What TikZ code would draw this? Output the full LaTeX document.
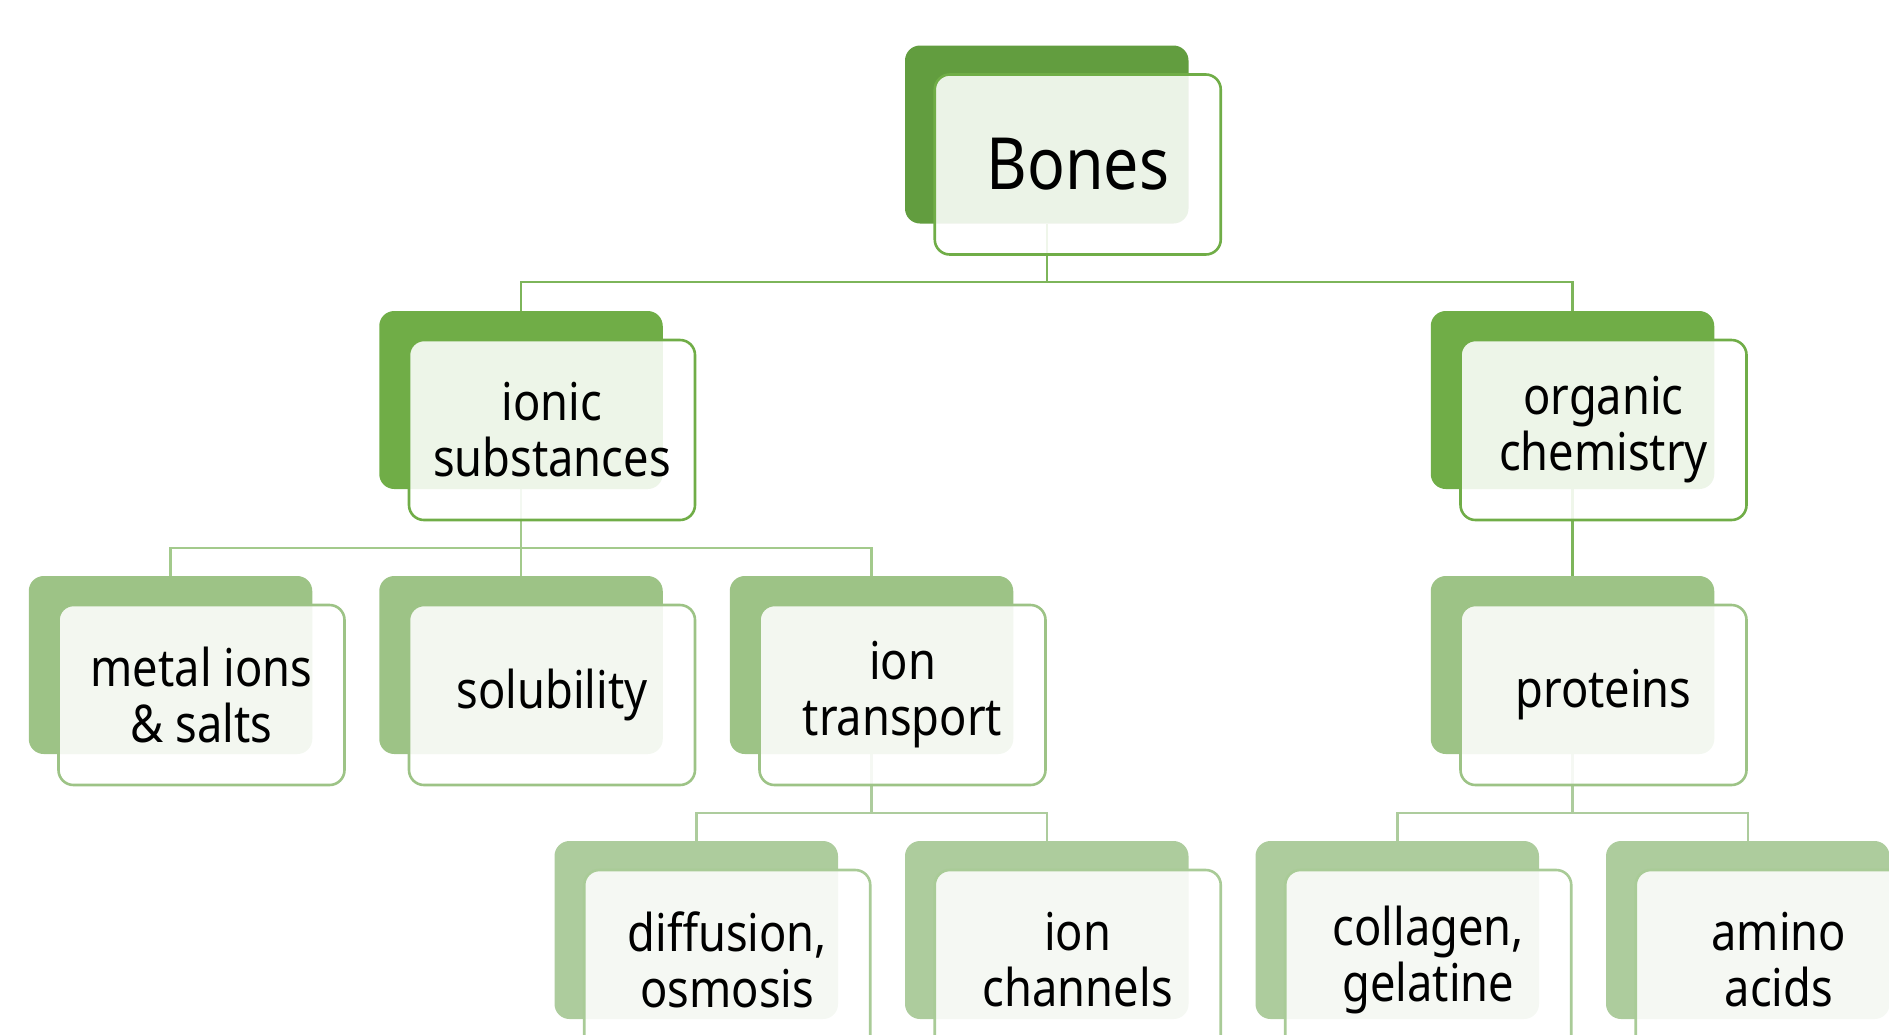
\documentclass[tikz,border=0pt]{standalone}
\usepackage{fontspec}
\setmainfont{Noto Sans}[FakeStretch=0.87]
\definecolor{backA}{HTML}{629D3F}
\definecolor{backB}{HTML}{70AD47}
\definecolor{backC}{HTML}{9DC386}
\definecolor{backD}{HTML}{ADCC9D}
\definecolor{frontA}{HTML}{70AD47}
\definecolor{frontB}{HTML}{70AD47}
\definecolor{frontC}{HTML}{9DC386}
\definecolor{frontD}{HTML}{A9CB97}
\definecolor{connA}{HTML}{7DB55A}
\definecolor{connB}{HTML}{A3CA8C}
\definecolor{connC}{HTML}{ADCC9D}
\pgfdeclarelayer{background}
\pgfsetlayers{background,main}
\newcommand\hpair[5]{%
  \node[backbox, fill=back#4] (#1B) at (#2,#3) {};
  \node[frontbox, draw=front#4] (#1) at ([shift={(31,30)}]#1B.center) {#5};
}
\begin{document}
\begin{tikzpicture}[x=0.5pt,y=-0.5pt,
  backbox/.style={rectangle, rounded corners=7.5pt, minimum width=141.75pt,
    minimum height=89pt, inner sep=0pt, draw=none},
  frontbox/.style={rectangle, rounded corners=7.5pt, minimum width=143pt,
    minimum height=90pt, inner sep=0pt, fill=white, fill opacity=0.88,
    text opacity=1, line width=1.3pt, align=center,
    font=\fontsize{26}{28}\selectfont},
  bigtext/.style={font=\fontsize{36}{40}\selectfont},
  connline/.style={line width=1.25pt}]
\useasboundingbox (0,0) rectangle (1889,1034);
\clip (0,0) rectangle (1889,1034);
\coordinate (bar0) at (0,282);
\coordinate (bar1) at (0,548);
\coordinate (bar2) at (0,813);

\node[backbox, fill=backA] (bonesB) at (1046.75,134.5) {};
\node[frontbox, draw=frontA, bigtext] (bones) at ([shift={(31,30)}]bonesB.center) {Bones};

\hpair{ionic}{521}{400}{B}{ionic\\substances}
\hpair{organic}{1572.5}{400}{B}{organic\\chemistry}

\hpair{metal}{170.5}{665}{C}{metal ions\\\& salts}
\hpair{solub}{521}{665}{C}{solubility}
\hpair{transport}{871.5}{665}{C}{ion\\transport}
\hpair{proteins}{1572.5}{665}{C}{proteins}

\hpair{diffusion}{696.25}{930}{D}{diffusion,\\osmosis}
\hpair{channels}{1046.75}{930}{D}{ion\\channels}
\hpair{collagen}{1397.25}{930}{D}{collagen,\\gelatine}
\hpair{amino}{1747.75}{930}{D}{amino\\acids}

\begin{pgfonlayer}{background}
\draw[connline, draw=connA] (bonesB.south) -- (bonesB.south |- bar0) -| (ionicB.north);
\draw[connline, draw=connA] (bonesB.south |- bar0) -| (organicB.north);

\draw[connline, draw=connB] (ionicB.south) -- (ionicB.south |- bar1) -| (metalB.north);
\draw[connline, draw=connB] (ionicB.south |- bar1) -- (solubB.north);
\draw[connline, draw=connB] (ionicB.south |- bar1) -| (transportB.north);
\draw[connline, draw=connA] (organicB.south) -- (proteinsB.north);

\draw[connline, draw=connC] (transportB.south) -- (transportB.south |- bar2) -| (diffusionB.north);
\draw[connline, draw=connC] (transportB.south |- bar2) -| (channelsB.north);
\draw[connline, draw=connC] (proteinsB.south) -- (proteinsB.south |- bar2) -| (collagenB.north);
\draw[connline, draw=connC] (proteinsB.south |- bar2) -| (aminoB.north);
\end{pgfonlayer}
\end{tikzpicture}
\end{document}
